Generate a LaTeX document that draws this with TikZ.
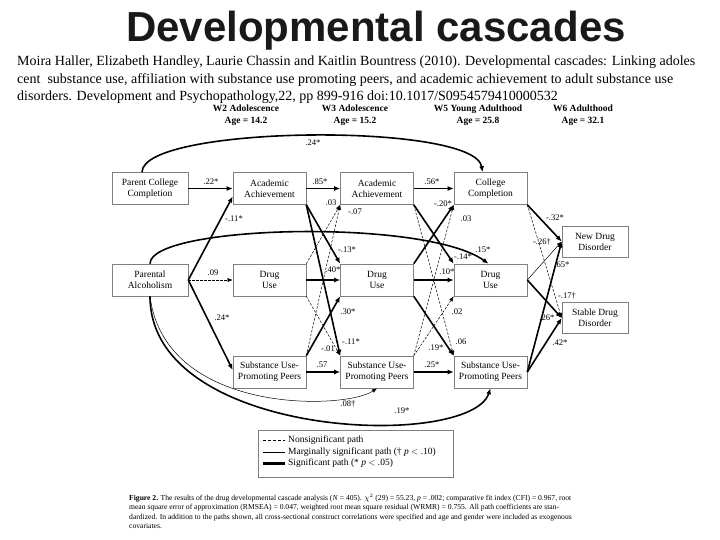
\documentclass[tikz,border=0pt]{standalone}
\usepackage{fontspec}
\setmainfont{Liberation Serif}
\newfontfamily\titlefont{Liberation Sans}
\usetikzlibrary{arrows.meta}

\tikzset{
  var/.style={draw=black!50, line width=0.6pt, fill=white, minimum width=73pt, minimum height=32pt,
    align=center, inner sep=1pt, font=\fontsize{9.5}{11}\selectfont},
  outc/.style={var, minimum width=66pt, minimum height=31pt},
  sig/.style={line width=1.6pt, -{Latex[length=6pt,width=5pt]}},
  marg/.style={line width=0.5pt, -{Latex[length=5pt,width=4pt]}},
  nsig/.style={line width=0.5pt, dash pattern=on 2.5pt off 1.5pt, -{Latex[length=5pt,width=4pt]}},
  coef/.style={font=\fontsize{8.6}{9}\selectfont, inner sep=0.5pt},
  wave/.style={font=\bfseries\fontsize{9.5}{12}\selectfont, align=center},
  cite/.style={anchor=base west, font=\fontsize{14}{15}\selectfont, inner sep=0pt},
  capt/.style={anchor=base west, font=\fontsize{7.6}{8}\selectfont, inner sep=0pt},
}

\begin{document}
\begin{tikzpicture}[x=1pt, y=-1pt]
    \useasboundingbox (0,0) rectangle (720,540);

    % title and reference
    \node[font=\titlefont\bfseries\fontsize{42}{42}\selectfont, anchor=base, text=black!90] (title) at (376,42) {Developmental cascades};
    \node[cite] (cite1) at (17,66) {Moira Haller, Elizabeth Handley, Laurie Chassin and Kaitlin Bountress (2010). Developmental cascades: Linking adoles};
    \node[cite] (cite2) at (17,83.5) {cent \ substance use, affiliation with substance use promoting peers, and academic achievement to adult substance use};
    \node[cite] (cite3) at (17,101) {disorders. Development and Psychopathology,22, pp 899-916 doi:10.1017/S0954579410000532};

    % waves
    \node[wave] (w2) at (246,115) {W2 Adolescence\\Age = 14.2};
    \node[wave] (w3) at (355,115) {W3 Adolescence\\Age = 15.2};
    \node[wave] (w5) at (478,115) {W5 Young Adulthood\\Age = 25.8};
    \node[wave] (w6) at (583,115) {W6 Adulthood\\Age = 32.1};

    % constructs
    \node[var, minimum width=76pt] (PCC) at (150,188.5) {Parent College\\Completion};
    \node[var] (AA2) at (269.5,188.5) {Academic\\Achievement};
    \node[var] (AA3) at (377,188.5) {Academic\\Achievement};
    \node[var] (CC5) at (490.5,188.5) {College\\Completion};

    \node[var, minimum width=76pt] (PA) at (150,280) {Parental\\Alcoholism};
    \node[var] (DU2) at (269.5,280) {Drug\\Use};
    \node[var] (DU3) at (377,280) {Drug\\Use};
    \node[var] (DU5) at (490.5,280) {Drug\\Use};

    \node[var] (SUP2) at (269.5,372) {Substance Use-\\Promoting Peers};
    \node[var] (SUP3) at (377,372) {Substance Use-\\Promoting Peers};
    \node[var] (SUP5) at (490.5,372) {Substance Use-\\Promoting Peers};

    \node[outc] (NDD) at (595,241.5) {New Drug\\Disorder};
    \node[outc] (SDD) at (595,318) {Stable Drug\\Disorder};

    % background predictors
    \draw[sig] (PCC.east) -- (AA2.west);
    \draw[nsig] (PA.east) -- (DU2.west);
    \draw[sig] (PA.east) -- ([yshift=-8pt]AA2.west);
    \draw[sig] (PA.east) -- ([yshift=2pt]SUP2.west);
    \draw[sig] ([xshift=-8pt]PCC.north) .. controls (142,125) and (475,122) .. ([xshift=-8pt]CC5.north);
    \draw[sig] (PA.north) .. controls (150,225) and (425,218) .. ([xshift=-2pt]DU5.north);
    \draw[sig] (PA.south) .. controls (150,440) and (470,450) .. (SUP5.south);
    \draw[marg] (PA.south) .. controls (165,415) and (345,410) .. (SUP3.south);

    % W2 -> W3
    \draw[sig] (AA2.east) -- (AA3.west);
    \draw[sig] (AA2.south east) -- (DU3.north west);
    \draw[sig] (AA2.south east) -- (SUP3.north west);
    \draw[nsig] (DU2.north east) -- (AA3.south west);
    \draw[sig] (DU2.east) -- (DU3.west);
    \draw[nsig] (DU2.south east) -- (SUP3.north west);
    \draw[nsig] (SUP2.north east) -- (AA3.south west);
    \draw[sig] (SUP2.north east) -- (DU3.south west);
    \draw[sig] (SUP2.east) -- (SUP3.west);

    % W3 -> W5
    \draw[sig] (AA3.east) -- (CC5.west);
    \draw[sig] (AA3.south east) -- (DU5.north west);
    \draw[nsig] (AA3.south east) -- (SUP5.north west);
    \draw[sig] (DU3.north east) -- (CC5.south west);
    \draw[sig] (DU3.east) -- (DU5.west);
    \draw[sig] (DU3.south east) -- (SUP5.north west);
    \draw[nsig] (SUP3.north east) -- (CC5.south west);
    \draw[nsig] (SUP3.north east) -- (DU5.south west);
    \draw[sig] (SUP3.east) -- (SUP5.west);

    % W5 -> W6
    \draw[sig] (CC5.south east) -- (NDD.west);
    \draw[nsig] (CC5.south east) -- (SDD.west);
    \draw[marg] (DU5.east) -- (NDD.west);
    \draw[sig] (DU5.east) -- (SDD.west);
    \draw[sig] (SUP5.east) -- (NDD.west);
    \draw[sig] (SUP5.east) -- (SDD.west);

    % coefficients
    \node[coef] (c01) at (211,182) {.22*};
    \node[coef] (c02) at (320,182) {.85*};
    \node[coef] (c03) at (432,182) {.56*};
    \node[coef] (c04) at (313,143) {.24*};
    \node[coef] (c05) at (213,273) {.09};
    \node[coef] (c06) at (234,219) {-.11*};
    \node[coef] (c07) at (222,318) {.24*};
    \node[coef] (c08) at (483,250) {.15*};
    \node[coef] (c09) at (402,411) {.19*};
    \node[coef] (c10) at (348,404) {.08\textdagger};
    \node[coef] (c11) at (331,203) {.03};
    \node[coef] (c12) at (355,212) {-.07};
    \node[coef] (c13) at (347,250) {-.13*};
    \node[coef] (c14) at (333,270) {.40*};
    \node[coef] (c15) at (348,312) {.30*};
    \node[coef] (c16) at (328,349) {-.01};
    \node[coef] (c17) at (351,342) {-.11*};
    \node[coef] (c18) at (322,365) {.57};
    \node[coef] (c19) at (443,204) {-.20*};
    \node[coef] (c20) at (466,219) {.03};
    \node[coef] (c21) at (463,257) {-.14*};
    \node[coef] (c22) at (447,272) {.10*};
    \node[coef] (c23) at (457,312) {.02};
    \node[coef] (c24) at (461,342) {.06};
    \node[coef] (c25) at (436,348) {.19*};
    \node[coef] (c26) at (432,365) {.25*};
    \node[coef] (c27) at (555,218) {-.32*};
    \node[coef] (c28) at (542,242) {-.26\textdagger};
    \node[coef] (c29) at (562,265) {.65*};
    \node[coef] (c30) at (567,296) {-.17\textdagger};
    \node[coef] (c31) at (547,318) {.26*};
    \node[coef] (c32) at (560,343) {.42*};

    % legend
    \draw[draw=black!50, line width=0.6pt] (258,430) rectangle (453,477);
    \draw[line width=0.6pt, dash pattern=on 3pt off 2pt] (263,440) -- (285,440);
    \draw[line width=0.4pt] (263,452) -- (285,452);
    \draw[line width=2.2pt] (263,463.5) -- (285,463.5);
    \node[anchor=west, font=\fontsize{9.5}{11}\selectfont, inner sep=1pt] (lg1) at (287,440) {Nonsignificant path};
    \node[anchor=west, font=\fontsize{9.5}{11}\selectfont, inner sep=1pt] (lg2) at (287,452) {Marginally significant path (\textdagger\ \textit{p} $<$ .10)};
    \node[anchor=west, font=\fontsize{9.5}{11}\selectfont, inner sep=1pt] (lg3) at (287,463.5) {Significant path (* \textit{p} $<$ .05)};

    % caption
    \node[capt] (cap1) at (129,500) {\textbf{Figure 2.} The results of the drug developmental cascade analysis (\textit{N} = 405). $\chi^2$ (29) = 55.23, \textit{p} = .002; comparative fit index (CFI) = 0.967, root};
    \node[capt] (cap2) at (129,509.5) {mean square error of approximation (RMSEA) = 0.047, weighted root mean square residual (WRMR) = 0.755. All path coefficients are stan-};
    \node[capt] (cap3) at (129,519) {dardized. In addition to the paths shown, all cross-sectional construct correlations were specified and age and gender were included as exogenous};
    \node[capt] (cap4) at (129,528.5) {covariates.};
\end{tikzpicture}
\end{document}
